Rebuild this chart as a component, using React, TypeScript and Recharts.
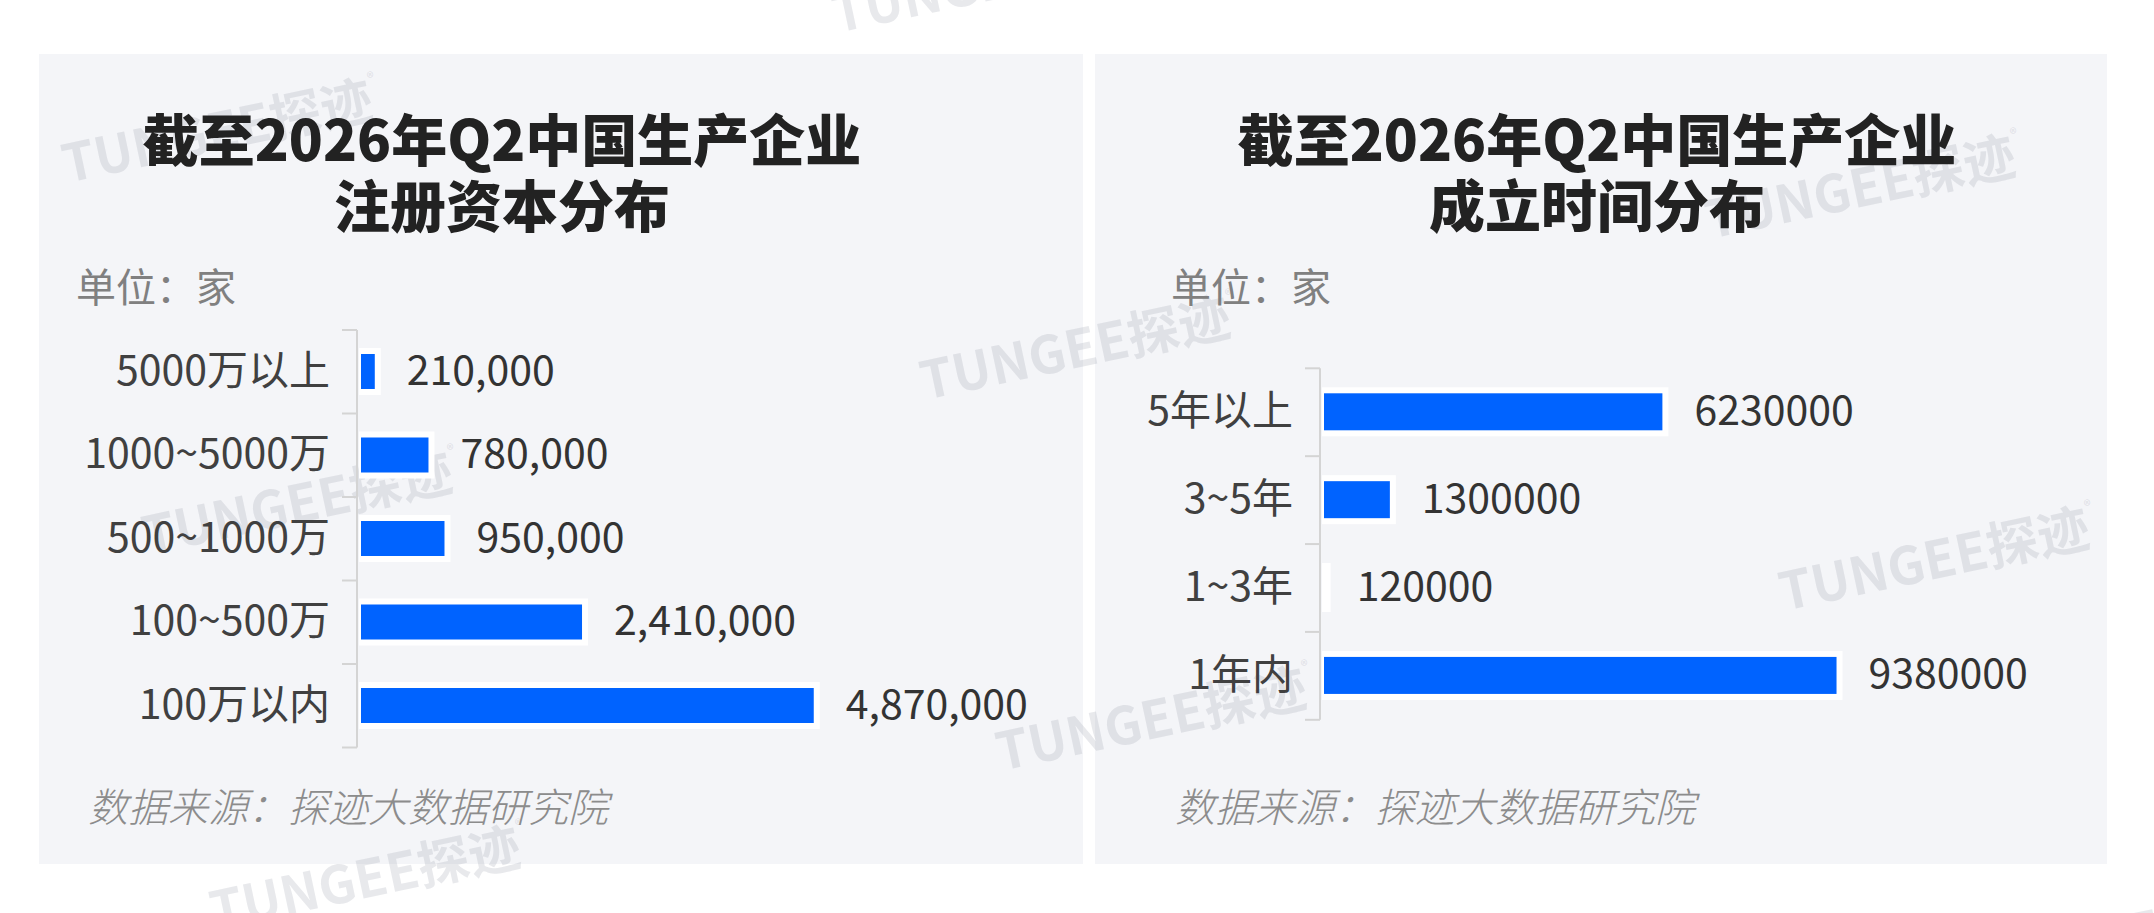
import React from 'react'
import { BarChart, Bar, XAxis, YAxis, LabelList } from 'recharts'

// 注册资本分布
const capitalCats = ['5000万以上', '1000~5000万', '500~1000万', '100~500万', '100万以内']
const capitalValues = [210000, 780000, 950000, 2410000, 4870000]

// 成立时间分布
const ageCats = ['5年以上', '3~5年', '1~3年', '1年内']
const ageValues = [6230000, 1300000, 120000, 9380000]

const titleLeft = '截至2026年Q2中国生产企业\n注册资本分布'
const titleRight = '截至2026年Q2中国生产企业\n成立时间分布'
const unitText = '单位：家'
const sourceText = '数据来源：探迹大数据研究院'

const FONT = '"Noto Sans CJK SC", "Noto Sans", sans-serif'
const BLUE = '#0063ff'
const PANEL = '#f4f5f8'
const AXIS = '#d4d4d4'
const LABEL_SIZE = 41

const capitalData = capitalCats.map((name, i) => ({ name, value: capitalValues[i] }))
const ageData = ageCats.map((name, i) => ({ name, value: ageValues[i] }))

// bar with white halo, like the source chart
const HaloBar = (props: any) => {
  const { x, y, width, height } = props
  const blueW = width - 6
  return (
    <g>
      <rect x={x + 2} y={y - 6} width={Math.max(width + 2, 0)} height={height + 12} fill="#fff" />
      {blueW > 1 && <rect x={x + 4} y={y} width={blueW} height={height} fill={BLUE} />}
    </g>
  )
}

// category tick: label at band centre, tick marks on band edges
const makeTick = (axisX: number, band: number, count: number) => (props: any) => {
  const { y, payload, index } = props
  return (
    <g>
      <line x1={axisX - 15} x2={axisX} y1={y - band / 2} y2={y - band / 2} stroke={AXIS} strokeWidth={2} />
      {index === count - 1 && (
        <line x1={axisX - 15} x2={axisX} y1={y + band / 2} y2={y + band / 2} stroke={AXIS} strokeWidth={2} />
      )}
      <text
        x={axisX - 27}
        y={y + 13}
        textAnchor="end"
        fill="#404040"
        style={{ fontFamily: FONT, fontSize: LABEL_SIZE }}
      >
        {payload.value}
      </text>
    </g>
  )
}

const makeValueLabel = (fmt: (v: number) => string) => (props: any) => {
  const { x, y, width, height, value } = props
  return (
    <text
      x={x + width + 30}
      y={y + height / 2 + 13}
      fill="#333"
      style={{ fontFamily: FONT, fontSize: LABEL_SIZE }}
    >
      {fmt(value)}
    </text>
  )
}

const withCommas = (v: number) => v.toLocaleString('en-US')
const plain = (v: number) => String(v)

const Watermark = ({ cx, cy }: { cx: number; cy: number }) => (
  <div
    style={{
      position: 'absolute',
      left: cx,
      top: cy,
      transform: 'translate(-50%, -50%) rotate(-12deg)',
      whiteSpace: 'nowrap',
      fontFamily: FONT,
      fontSize: 52,
      fontWeight: 700,
      color: 'rgba(150, 155, 170, 0.22)',
      lineHeight: 1,
    }}
  >
    TUNGEE探迹<span style={{ fontSize: 14, verticalAlign: 'top' }}>®</span>
  </div>
)

const watermarkSpots = [
  [220, 128],
  [1078, 345],
  [300, 500],
  [1937, 556],
  [1154, 716],
  [368, 875],
  [1863, 184],
  [990, -22],
  [2110, 935],
]

const Title = ({ cx, text }: { cx: number; text: string }) => (
  <div
    style={{
      position: 'absolute',
      left: cx - 500,
      top: 104,
      width: 1000,
      textAlign: 'center',
      whiteSpace: 'pre',
      fontFamily: FONT,
      fontSize: 56,
      fontWeight: 900,
      lineHeight: '66px',
      color: '#222',
    }}
  >
    {text}
  </div>
)

const Unit = ({ left }: { left: number }) => (
  <div
    style={{
      position: 'absolute',
      left,
      top: 265,
      fontFamily: FONT,
      fontSize: 40,
      lineHeight: '40px',
      color: '#808080',
      whiteSpace: 'nowrap',
    }}
  >
    {unitText}
  </div>
)

const Source = ({ left }: { left: number }) => (
  <div
    style={{
      position: 'absolute',
      left,
      top: 785,
      fontFamily: FONT,
      fontSize: 40,
      lineHeight: '40px',
      fontStyle: 'italic',
      fontWeight: 300,
      color: '#8c8c8c',
      whiteSpace: 'nowrap',
    }}
  >
    {sourceText}
  </div>
)

export default function App() {
  // left chart layout
  const lAxisW = 357
  const lTop = 30
  const lPlotH = 417.5
  const lBand = lPlotH / capitalCats.length

  // right chart layout
  const rAxisW = 230
  const rTop = 38.3
  const rPlotH = 351.5
  const rBand = rPlotH / ageCats.length

  return (
    <div
      style={{
        position: 'absolute',
        left: 0,
        top: 0,
        width: 2154,
        height: 913,
        overflow: 'hidden',
        background: '#fff',
        fontFamily: FONT,
      }}
    >
      <div style={{ position: 'absolute', left: 39, top: 54, width: 1044, height: 810, background: PANEL }} />
      <div style={{ position: 'absolute', left: 1095, top: 54, width: 1012, height: 810, background: PANEL }} />

      {watermarkSpots.map(([cx, cy], i) => (
        <Watermark key={i} cx={cx} cy={cy} />
      ))}

      <Title cx={502} text={titleLeft} />
      <Title cx={1597} text={titleRight} />
      <Unit left={76} />
      <Unit left={1171} />
      <Source left={88} />
      <Source left={1175} />

      <div style={{ position: 'absolute', left: 0, top: 300 }}>
        <BarChart
          width={1080}
          height={480}
          data={capitalData}
          layout="vertical"
          barSize={35}
          margin={{ top: lTop, right: 252, bottom: 480 - lTop - lPlotH, left: 0 }}
        >
          <XAxis type="number" domain={[0, 5000000]} hide />
          <YAxis
            type="category"
            dataKey="name"
            width={lAxisW}
            axisLine={{ stroke: AXIS, strokeWidth: 2 }}
            tickLine={false}
            interval={0}
            tick={makeTick(lAxisW, lBand, capitalCats.length)}
          />
          <Bar dataKey="value" shape={HaloBar} isAnimationActive={false}>
            <LabelList dataKey="value" content={makeValueLabel(withCommas)} />
          </Bar>
        </BarChart>
      </div>

      <div style={{ position: 'absolute', left: 1090, top: 330 }}>
        <BarChart
          width={1064}
          height={430}
          data={ageData}
          layout="vertical"
          barSize={37}
          margin={{ top: rTop, right: 1064 - rAxisW - 552.8, bottom: 430 - rTop - rPlotH, left: 0 }}
        >
          <XAxis type="number" domain={[0, 10000000]} hide />
          <YAxis
            type="category"
            dataKey="name"
            width={rAxisW}
            axisLine={{ stroke: AXIS, strokeWidth: 2 }}
            tickLine={false}
            interval={0}
            tick={makeTick(rAxisW, rBand, ageCats.length)}
          />
          <Bar dataKey="value" shape={HaloBar} isAnimationActive={false}>
            <LabelList dataKey="value" content={makeValueLabel(plain)} />
          </Bar>
        </BarChart>
      </div>
    </div>
  )
}
